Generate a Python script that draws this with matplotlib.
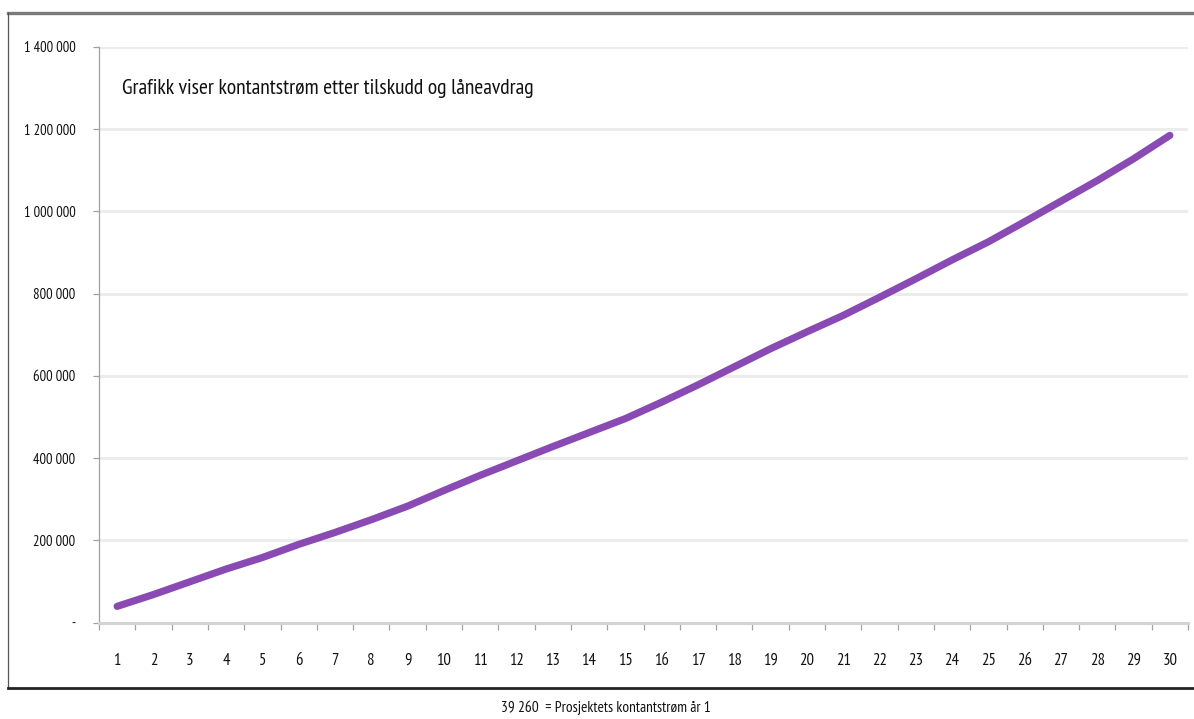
import matplotlib
matplotlib.use("Agg")
import matplotlib.pyplot as plt
from matplotlib.lines import Line2D
from matplotlib.ticker import FuncFormatter, FixedLocator

# Cash flow after grants and loan repayments, year 1..30 (NOK)
years = list(range(1, 31))
cash_flow = [39260, 68000, 99000, 130000, 158000, 190000, 219000, 250000, 283000, 321000,
             358000, 393000, 428000, 462000, 496000, 536000, 578000, 622000, 666000, 707000,
             747000, 791000, 836000, 882000, 926000, 975000, 1025000, 1075000, 1128000, 1185000]
y_ticks = [0, 200000, 400000, 600000, 800000, 1000000, 1200000, 1400000]

title_text = "Grafikk viser kontantstrøm etter tilskudd og låneavdrag"
footer_text = "39 260  = Prosjektets kontantstrøm år 1"

plt.rcParams["font.family"] = ["PT Sans Narrow", "DejaVu Sans"]

W, H = 1194, 719
fig = plt.figure(figsize=(W / 100, H / 100), dpi=100)
ax = fig.add_axes([99 / W, 1 - 622.5 / H, (1188 - 99) / W, (622.5 - 47) / H])

ax.plot(years, cash_flow, color="#8a4ab4", lw=5.2, solid_capstyle="round", zorder=3)

ax.set_xlim(0.5, 30.5)
ax.set_ylim(0, 1400000)

def nok(v, pos):
    if v == 0:
        return "-"
    return f"{int(v):,}".replace(",", " ")

ax.yaxis.set_major_locator(FixedLocator(y_ticks))
ax.yaxis.set_major_formatter(FuncFormatter(nok))
ax.set_xticks(years)
ax.set_xticklabels([str(y) for y in years])
ax.xaxis.set_minor_locator(FixedLocator([y + 0.5 for y in range(0, 31)]))

for v in y_ticks[1:]:
    ax.axhline(v, color="#ececec", lw=2.2, zorder=1)

for s in ("top", "right"):
    ax.spines[s].set_visible(False)
ax.spines["left"].set_color("#a0a0a0")
ax.spines["left"].set_linewidth(0.9)
ax.spines["bottom"].set_color("#d4d4d4")
ax.spines["bottom"].set_linewidth(2.2)

ax.tick_params(axis="y", length=4, width=0.9, color="#a0a0a0", labelsize=10.5, pad=13,
               labelcolor="#111111")
ax.tick_params(axis="x", which="major", length=0, labelsize=12, pad=22, labelcolor="#111111")
ax.tick_params(axis="x", which="minor", length=5, width=0.9, color="#a0a0a0")

fig.text(122 / W, 1 - 89 / H, title_text, fontsize=15.6, ha="left", va="center", color="#111111")
fig.text(606 / W, 1 - 708 / H, footer_text, fontsize=11, ha="center", va="center", color="#111111")

# page frame
fig.add_artist(Line2D([8 / W, 1], [1 - 12.5 / H] * 2, transform=fig.transFigure,
                      color="#7a7a7a", lw=2.4))
fig.add_artist(Line2D([8 / W, 8 / W], [1 - 12.5 / H, 1 - 688 / H], transform=fig.transFigure,
                      color="#555555", lw=0.9))
fig.add_artist(Line2D([8 / W, 1], [1 - 688 / H] * 2, transform=fig.transFigure,
                      color="#222222", lw=2.0))

fig.savefig("out.png", dpi=100)
